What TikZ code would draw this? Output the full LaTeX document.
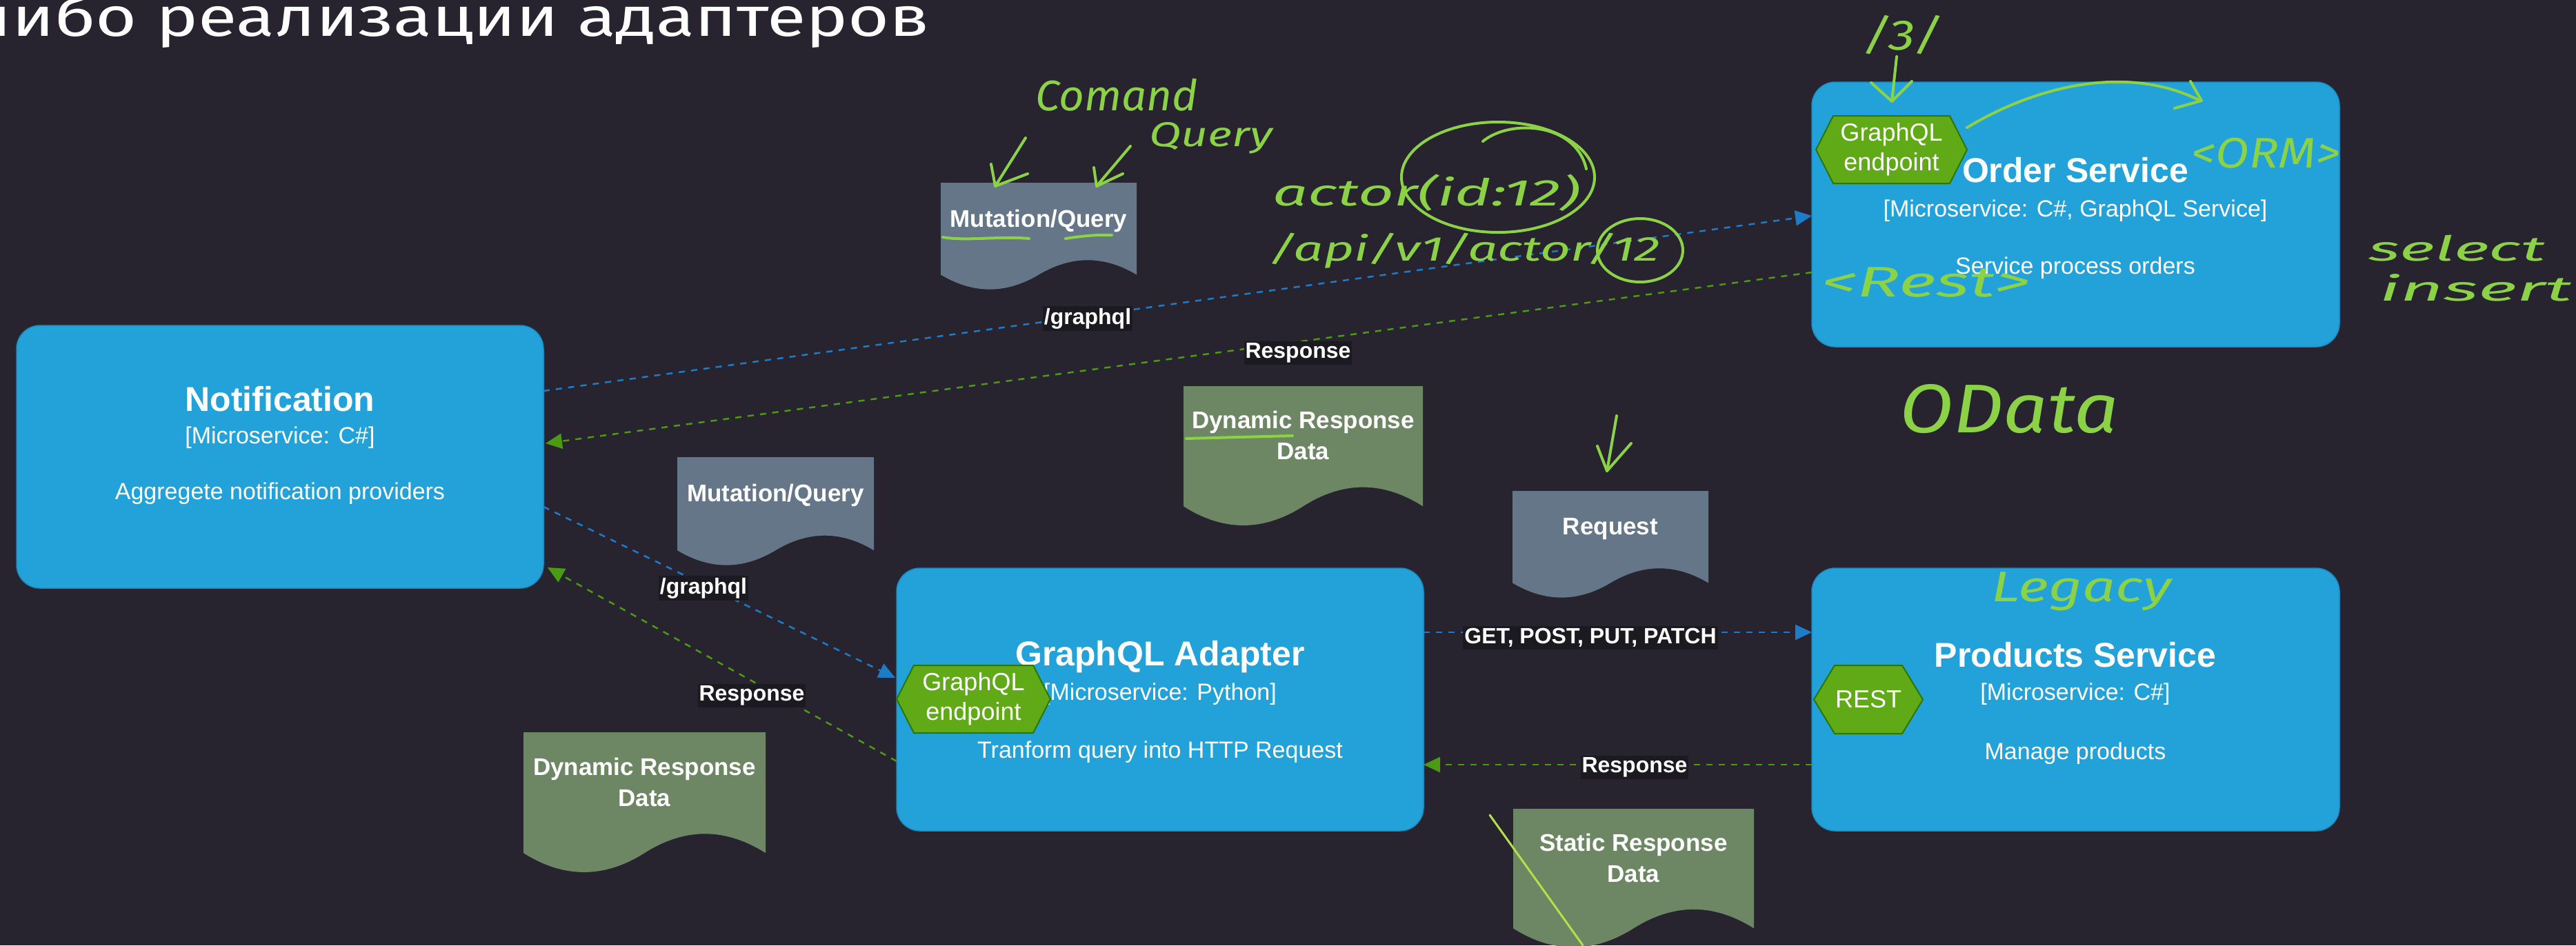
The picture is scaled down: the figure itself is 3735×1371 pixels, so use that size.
\documentclass[tikz,border=0pt]{standalone}
\usepackage{fontspec}
\usepackage{graphicx}
\setmainfont{Liberation Sans}
\newfontfamily\lblfont{Liberation Sans}
\newfontfamily\titlefont{Fira Sans}
\newfontfamily\handfont{Fira Sans}
\usetikzlibrary{arrows.meta,calc}

\definecolor{pagebg}{HTML}{28242F}
\definecolor{svcblue}{HTML}{23A2D9}
\definecolor{svcedge}{HTML}{1A8CC2}
\definecolor{docgray}{HTML}{647687}
\definecolor{docgreen}{HTML}{6D8764}
\definecolor{hexgreen}{HTML}{60A917}
\definecolor{hexedge}{HTML}{2D7600}
\definecolor{edgeblue}{HTML}{1E7BC8}
\definecolor{edgegreen}{HTML}{4A9A14}
\definecolor{labelbg}{HTML}{1C1A21}
\definecolor{handgreen}{HTML}{8CD246}
\definecolor{slashgreen}{HTML}{B2E04A}

\tikzset{
  svcbox/.style={fill=svcblue, draw=svcedge, line width=1.5pt, rounded corners=34pt, inner sep=0pt, outer sep=0pt},
  svctitle/.style={text=white, font={\lblfont\bfseries\fontsize{50}{56}\selectfont}, anchor=base, inner sep=0pt},
  svcsub/.style={text=white, font={\lblfont\fontsize{34}{40}\selectfont}, anchor=base, inner sep=0pt},
  docbox/.style={draw=none, inner sep=0pt, outer sep=0pt},
  doctext/.style={text=white, font={\lblfont\bfseries\fontsize{35}{45}\selectfont}, align=center, inner sep=0pt},
  hexfill/.style={fill=hexgreen, draw=hexedge, line width=2pt, line join=round},
  hextext/.style={text=white, font={\lblfont\fontsize{36}{43}\selectfont}, align=center, inner sep=0pt},
  flowbase/.style={line width=2.5pt, dash pattern=on 9pt off 9pt, -{Triangle[length=24pt,width=22pt]}},
  flowblue/.style={flowbase, draw=edgeblue},
  flowgreen/.style={flowbase, draw=edgegreen},
  edgelabel/.style={fill=labelbg, text=white, font={\lblfont\bfseries\fontsize{32}{36}\selectfont}, inner xsep=2pt, inner ysep=3pt},
  hand/.style={draw=handgreen, line width=4pt, line cap=round, line join=round},
  handtext/.style={text=handgreen, inner sep=0pt, anchor=base west, font={\handfont\itshape}},
}

% document shape with a wavy bottom: name, cx, cy, width, height, fill, text
\newcommand\docnode[7]{%
  \node[docbox, minimum width=#4pt, minimum height=#5pt] (#1) at (#2,#3) {};
  \fill[#6] let \p1=(#1.north west), \p2=(#1.south east), \n1={\x2-\x1}, \n2={\y1-\y2} in
    (\x1,\y1) -- (\x2,\y1) -- (\x2,{\y2+0.15*\n2})
    .. controls ({\x2-\n1/6},{\y2+0.33*\n2}) and ({\x1+2*\n1/3},{\y2+0.33*\n2}) .. ({\x1+\n1/2},{\y2+0.15*\n2})
    .. controls ({\x1+\n1/3},{\y2-0.03*\n2}) and ({\x1+\n1/6},{\y2-0.03*\n2}) .. (\x1,{\y2+0.15*\n2}) -- cycle;
  \node[doctext] (#1-text) at ($(#1.north)!0.35!(#1.south)$) {#7};
}

% hexagonal endpoint badge: name, cx, cy, width, height, corner cut, text
\newcommand\hexnode[7]{%
  \node[docbox, minimum width=#4pt, minimum height=#5pt] (#1) at (#2,#3) {};
  \filldraw[hexfill] (#1.west) -- ($(#1.north west)+(#6,0)$) -- ($(#1.north east)+(-#6,0)$)
    -- (#1.east) -- ($(#1.south east)+(-#6,0)$) -- ($(#1.south west)+(#6,0)$) -- cycle;
  \node[hextext] (#1-text) at (#1.center) {#7};
}

% handwritten note, stretched to a given width: width, size, text
\newcommand\hw[3]{\resizebox{#1pt}{\height}{\fontsize{#2}{#2}\selectfont #3}}

\begin{document}
\begin{tikzpicture}[x=1pt, y=-1pt]
  \useasboundingbox (0,0) rectangle (3735,1371);
  \fill[pagebg] (0,0) rectangle (3735,1371);

  % slide heading, running off the left edge
  \node[anchor=base east, text=white, font={\titlefont}, inner sep=0pt]
    (heading) at (1348,52) {\resizebox{1390pt}{\height}{\fontsize{80}{90}\selectfont либо реализации адаптеров}};

  % services
  \node[svcbox, minimum width=764pt, minimum height=381pt] (notif) at (406,662.5) {};
  \node[svctitle] (notif-title) at (406,596) {Notification};
  \node[svcsub] (notif-tech) at (406,643) {[Microservice: C\#]};
  \node[svcsub] (notif-desc) at (406,724) {Aggregete notification providers};

  \node[svcbox, minimum width=765pt, minimum height=384pt] (order) at (3009.5,311) {};
  \node[svctitle] (order-title) at (3009,264) {Order Service};
  \node[svcsub] (order-tech) at (3009,314) {[Microservice: C\#, GraphQL Service]};
  \node[svcsub] (order-desc) at (3009,397) {Service process orders};

  \node[svcbox, minimum width=764pt, minimum height=381pt] (adapter) at (1682,1014.5) {};
  \node[svctitle] (adapter-title) at (1682,965) {GraphQL Adapter};
  \node[svcsub] (adapter-tech) at (1682,1015) {[Microservice: Python]};
  \node[svcsub] (adapter-desc) at (1682,1099) {Tranform query into HTTP Request};

  \node[svcbox, minimum width=765pt, minimum height=381pt] (products) at (3009.5,1014.5) {};
  \node[svctitle] (products-title) at (3009,967) {Products Service};
  \node[svcsub] (products-tech) at (3009,1015) {[Microservice: C\#]};
  \node[svcsub] (products-desc) at (3009,1101) {Manage products};

  % endpoints
  \hexnode{hexorder}{2742.5}{217}{219}{98}{25}{GraphQL\\endpoint}
  \hexnode{hexadapter}{1411.5}{1014}{223}{98}{25}{GraphQL\\endpoint}
  \hexnode{hexrest}{2709}{1014.5}{158}{99}{30}{REST}

  % payloads
  \docnode{mq1}{1506}{343.5}{284}{157}{docgray}{Mutation/Query}
  \docnode{drd1}{1889.5}{662.5}{347}{205}{docgreen}{Dynamic Response\\Data}
  \docnode{mq2}{1124.5}{742.5}{285}{159}{docgray}{Mutation/Query}
  \docnode{req}{2335}{790.5}{284}{157}{docgray}{Request}
  \docnode{drd2}{934.5}{1165}{351}{206}{docgreen}{Dynamic Response\\Data}
  \docnode{srd}{2368.5}{1275}{349}{204}{docgreen}{Static Response\\Data}

  % relations
  \draw[flowblue] ($(notif.north east)+(0,95)$) -- ($(order.north west)+(0,194)$);
  \draw[flowgreen] ($(order.north west)+(0,276)$) -- ($(notif.north east)+(3,171)$);
  \draw[flowblue] ($(notif.north east)+(0,263)$) -- ($(adapter.north west)+(-2,159)$);
  \draw[flowgreen] ($(adapter.north west)+(0,280)$) -- ($(notif.south east)+(6,-30)$);
  \draw[flowblue] ($(adapter.north east)+(0,93)$) -- ($(products.north west)+(0,93)$);
  \draw[flowgreen] ($(products.north west)+(0,285)$) -- ($(adapter.north east)+(0,285)$);

  \node[edgelabel] (lbl-n2o) at (1577,462) {/graphql};
  \node[edgelabel] (lbl-o2n) at (1882,512) {Response};
  \node[edgelabel] (lbl-n2a) at (1020,853) {/graphql};
  \node[edgelabel] (lbl-a2n) at (1090,1009) {Response};
  \node[edgelabel] (lbl-a2p) at (2306,925) {GET, POST, PUT, PATCH};
  \node[edgelabel] (lbl-p2a) at (2370,1113) {Response};

  % handwritten notes
  \node[handtext] (n-comand) at (1501,160) {\hw{236}{62}{Comand}};
  \node[handtext] (n-query) at (1666,212) {\hw{179}{50}{Query}};
  \draw[hand] (1487,200) -- (1443,270);
  \draw[hand] (1437,238) -- (1443,270) -- (1490,252);
  \draw[hand] (1639,212) -- (1590,270);
  \draw[hand] (1586,243) -- (1590,270) -- (1628,252);
  \draw[hand] (1367,344) .. controls (1400,350) and (1450,342) .. (1492,346);
  \draw[hand] (1545,346) .. controls (1570,342) and (1595,340) .. (1612,341);

  \node[handtext] (n-actor) at (1845,298) {\hw{446}{54}{actor(id:12)}};
  \node[handtext] (n-api) at (1840,378) {\hw{567}{50}{/api/v1/actor/12}};
  \draw[hand] (2172,257) ellipse [x radius=140, y radius=80];
  \draw[hand] (2150,205) .. controls (2190,172) and (2285,178) .. (2300,245);
  \draw[hand] (2378,363) ellipse [x radius=62, y radius=46];

  \node[handtext] (n-three) at (2701,72) {\hw{114}{62}{/3/}};
  \draw[hand] (2750,82) -- (2743,147);
  \draw[hand] (2713,120) -- (2743,147) -- (2772,118);
  \draw[hand] (2852,185) .. controls (2960,120) and (3090,95) .. (3190,146);
  \draw[hand] (3176,118) -- (3192,146) -- (3153,157);
  \node[handtext] (n-orm) at (3177,243) {\hw{216}{62}{<ORM>}};
  \node[handtext] (n-rest) at (2641,430) {\hw{302}{62}{<Rest>}};
  \node[handtext] (n-select) at (3434,378) {\hw{256}{50}{select}};
  \node[handtext] (n-insert) at (3450,436) {\hw{279}{50}{insert}};
  \node[handtext] (n-odata) at (2754,627) {\hw{318}{100}{OData}};

  \draw[hand] (2344,603) -- (2330,683);
  \draw[hand] (2316,647) -- (2330,683) -- (2365,643);
  \draw[hand] (1720,636) -- (1874,632);
  \node[handtext] (n-legacy) at (2887,872) {\hw{261}{62}{Legacy}};
  \draw[hand, draw=slashgreen, line width=3pt] (2160,1182) -- (2295,1371);
\end{tikzpicture}
\end{document}
